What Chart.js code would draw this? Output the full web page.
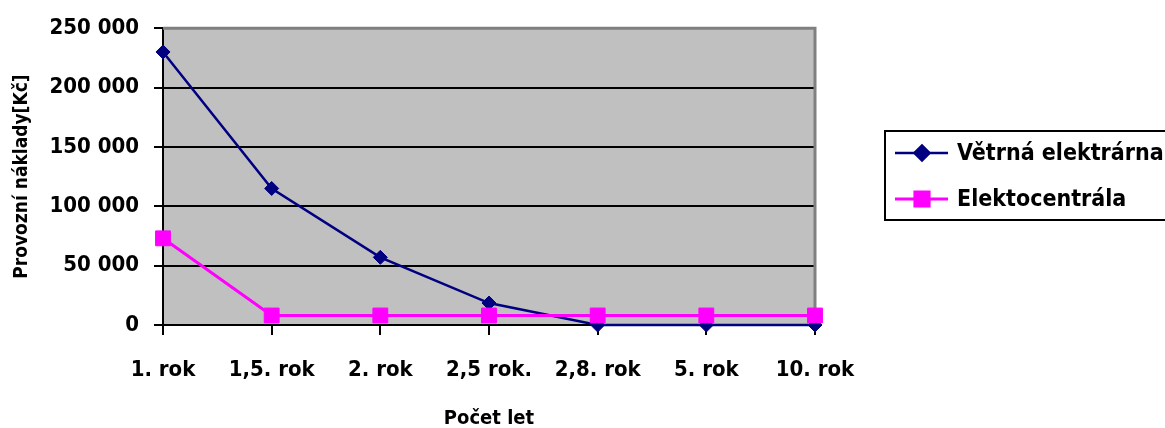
<!DOCTYPE html>
<html>
<head>
<meta charset="utf-8">
<script src="https://cdn.jsdelivr.net/npm/chart.js@4/dist/chart.umd.min.js"></script>
<style>
  html, body { margin: 0; padding: 0; background: #fff; }
  canvas { display: block; }
</style>
</head>
<body>
<canvas id="naklady" width="1165" height="428"></canvas>
<script>
// roky a provozni naklady obou zdroju
const categories = ['1. rok', '1,5. rok', '2. rok', '2,5 rok.', '2,8. rok', '5. rok', '10. rok'];
const vetrnaValues = [230000, 115000, 57000, 18500, 0, 0, 0];
const elektroValues = [73000, 8000, 8000, 8000, 8000, 8000, 8000];
const yTicks = [0, 50000, 100000, 150000, 200000, 250000];

const FONT = "'DejaVu Sans Condensed', 'DejaVu Sans', sans-serif";

// 250000 -> "250 000"
let formatKc = v => String(v).replace(/\B(?=(\d{3})+(?!\d))/g, ' ');

// sede pozadi grafu + sedy ramecek nahore a vpravo
const plotFrame = {
    id: 'plotFrame',
    beforeDraw(chart) {
        const {ctx, chartArea: a} = chart;
        ctx.save();
        ctx.fillStyle = '#c0c0c0';
        ctx.fillRect(a.left, a.top, a.right - a.left, a.bottom - a.top);
        ctx.restore();
    },
    beforeDatasetsDraw(chart) {
        const {ctx, chartArea: a} = chart;
        ctx.save();
        ctx.strokeStyle = '#808080';
        ctx.lineWidth = 3;
        ctx.beginPath();
        ctx.moveTo(a.left, a.top);
        ctx.lineTo(a.right, a.top);
        ctx.lineTo(a.right, a.bottom);
        ctx.stroke();
        ctx.restore();
    }
};

// legenda v ramecku vpravo
const boxLegend = {
    id: 'boxLegend',
    afterDraw(chart) {
        const {ctx} = chart;
        const x = 885, y = 131, w = 320, h = 89;
        ctx.save();
        ctx.strokeStyle = '#000';
        ctx.lineWidth = 2;
        ctx.strokeRect(x, y, w, h);
        chart.data.datasets.forEach((ds, i) => {
            const rowY = 153 + i * 46;
            ctx.strokeStyle = ds.borderColor;
            ctx.lineWidth = ds.borderWidth;
            ctx.beginPath();
            ctx.moveTo(895, rowY);
            ctx.lineTo(948, rowY);
            ctx.stroke();
            ctx.fillStyle = ds.pointBackgroundColor;
            ctx.strokeStyle = ds.borderColor;
            Chart.helpers.drawPoint(ctx, {
                pointStyle: ds.pointStyle,
                radius: ds.legendRadius,
                rotation: 0,
                borderWidth: 1
            }, 922, rowY);
            ctx.fillStyle = '#000';
            ctx.font = 'bold 23px ' + FONT;
            ctx.textBaseline = 'middle';
            ctx.textAlign = 'left';
            ctx.fillText(ds.label, 957, rowY + 1);
        });
        ctx.restore();
    }
};

let ctx = document.getElementById('naklady');
const chart = new Chart(ctx, {
    type: 'line',
    data: {
        labels: categories,
        datasets: [
            {
                label: 'Větrná elektrárna',
                data: vetrnaValues,
                borderColor: '#000080',
                backgroundColor: '#000080',
                pointBackgroundColor: '#000080',
                borderWidth: 2.5,
                pointStyle: 'rectRot',
                pointRadius: 7,
                pointBorderWidth: 1,
                legendRadius: 7.5,
                tension: 0,
                clip: false,
                order: 2
            },
            {
                label: 'Elektocentrála',
                data: elektroValues,
                borderColor: '#ff00ff',
                backgroundColor: '#ff00ff',
                pointBackgroundColor: '#ff00ff',
                borderWidth: 3,
                pointStyle: 'rect',
                pointRadius: 10.5,
                pointBorderWidth: 1,
                legendRadius: 10,
                tension: 0,
                clip: false,
                order: 1
            }
        ]
    },
    options: {
        responsive: false,
        animation: false,
        devicePixelRatio: 1,
        layout: { padding: { left: 0, top: 26, right: 350, bottom: 0 } },
        plugins: {
            legend: { display: false },
            tooltip: { enabled: false }
        },
        scales: {
            x: {
                offset: false,
                afterFit: s => { s.height = 103; },
                grid: {
                    drawOnChartArea: false,
                    color: '#000',
                    lineWidth: 2,
                    tickLength: 10
                },
                border: { color: '#000', width: 2 },
                ticks: {
                    color: '#000',
                    padding: 22,
                    maxRotation: 0,
                    autoSkip: false,
                    font: { family: FONT, size: 22, weight: 'bold' }
                },
                title: {
                    display: true,
                    text: 'Počet let',
                    color: '#000',
                    padding: 0,
                    font: { family: FONT, size: 20, weight: 'bold', lineHeight: 0.9 }
                }
            },
            y: {
                min: 0,
                max: 250000,
                afterFit: s => { s.width = 163; },
                afterBuildTicks: s => { s.ticks = yTicks.map(v => ({ value: v })); },
                grid: {
                    color: c => c.tick && c.tick.value === 250000 ? 'rgba(0,0,0,0)' : '#000',
                    tickColor: '#000',
                    lineWidth: 2,
                    tickLength: 9
                },
                border: { color: '#000', width: 2 },
                ticks: {
                    color: '#000',
                    padding: 15,
                    callback: v => formatKc(v),
                    font: { family: FONT, size: 22, weight: 'bold' }
                },
                title: {
                    display: true,
                    text: 'Provozní náklady[Kč]',
                    color: '#000',
                    padding: { top: 10.5, bottom: 0 },
                    font: { family: FONT, size: 19, weight: 'bold' }
                }
            }
        }
    },
    plugins: [plotFrame, boxLegend]
});
</script>
</body>
</html>
